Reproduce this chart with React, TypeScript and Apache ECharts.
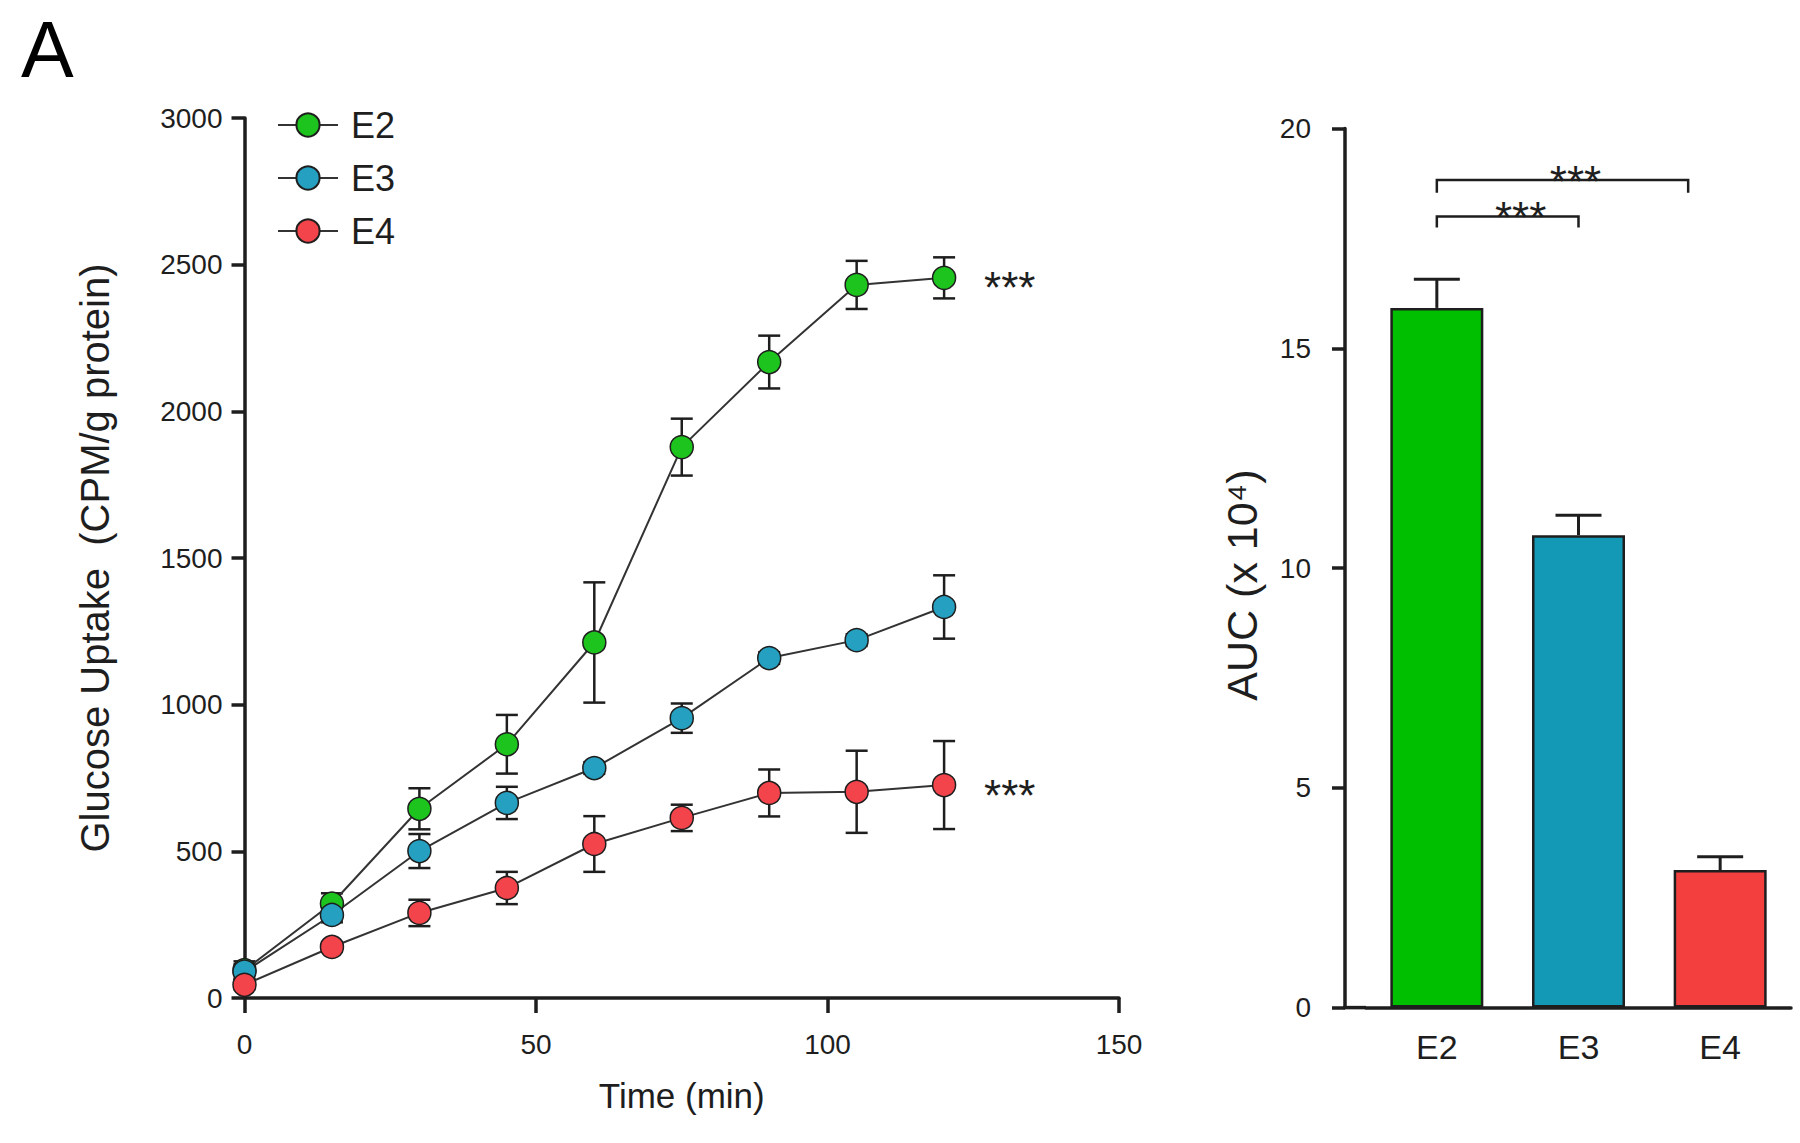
import React, { useEffect, useRef } from 'react';
import * as echarts from 'echarts';

// ---- Data ----
const seriesNames = ['E2', 'E3', 'E4'];
const times = [0, 15, 30, 45, 60, 75, 90, 105, 120];
const e2Mean = [95, 322, 645, 865, 1212, 1878, 2168, 2431, 2455];
const e2Err = [30, 35, 70, 100, 205, 97, 90, 82, 70];
const e3Mean = [90, 283, 501, 665, 784, 954, 1159, 1220, 1333];
const e3Err = [25, 25, 58, 55, 20, 50, 20, 20, 108];
const e4Mean = [45, 174, 290, 375, 525, 614, 699, 703, 726];
const e4Err = [15, 15, 45, 55, 95, 45, 80, 140, 150];
const starredSeries = ['E2', 'E4'];

const aucCategories = ['E2', 'E3', 'E4'];
const aucMean = [15.92, 10.75, 3.13];
const aucErr = [0.65, 0.45, 0.3];
// significance brackets: [fromIndex, toIndex, lineValue, dropValue]
const brackets = [
  [0, 1, 18.0, 17.75],
  [0, 2, 18.83, 18.54],
];
const bracketLabel = '***';

// ---- Styles ----
const FONT = '"Liberation Sans", Arial, Helvetica, sans-serif';
const markerColors = ['#1ec41e', '#25a0c0', '#f2444a'];
const barColors = ['#00be00', '#1399b5', '#f43f3f'];
const bracketRightShift = [0, -32];
const AXIS_W = 3.5;
const INK = '#1e1e1e';
const STAR_SIZE = 44;

const L = { left: 244.5, top: 118, width: 874.5, height: 880 };
const R = { left: 1366, top: 128.6, width: 425, height: 879 };
const R_OFFSET = 21;

export default function App() {
  const ref = useRef<HTMLDivElement>(null);

  useEffect(() => {
    const chart = echarts.init(ref.current as HTMLDivElement, null, { renderer: 'svg' });

    const means = [e2Mean, e3Mean, e4Mean];
    const errs = [e2Err, e3Err, e4Err];

    const errRender = (capHalf: number) => (params: any, api: any) => {
      const x = api.value(0);
      const lo = api.value(1);
      const hi = api.value(2);
      const pLo = api.coord([x, lo]);
      const pHi = api.coord([x, hi]);
      const st = { stroke: INK, lineWidth: 2.5 };
      return {
        type: 'group',
        children: [
          { type: 'line', shape: { x1: pLo[0], y1: pLo[1], x2: pHi[0], y2: pHi[1] }, style: st },
          { type: 'line', shape: { x1: pHi[0] - capHalf, y1: pHi[1], x2: pHi[0] + capHalf, y2: pHi[1] }, style: st },
          { type: 'line', shape: { x1: pLo[0] - capHalf, y1: pLo[1], x2: pLo[0] + capHalf, y2: pLo[1] }, style: st },
        ],
      };
    };

    const lineSeries: any[] = seriesNames.map((name, si) => ({
      name,
      type: 'line',
      xAxisIndex: 0,
      yAxisIndex: 0,
      data: times.map((t, i) => [t, means[si][i]]),
      symbol: 'circle',
      symbolSize: 23,
      z: 3,
      itemStyle: { color: markerColors[si], borderColor: INK, borderWidth: 1.5 },
      lineStyle: { color: '#333', width: 2 },
      endLabel: starredSeries.includes(name)
        ? {
            show: true,
            formatter: '***',
            distance: 40,
            offset: [0, 10],
            fontSize: STAR_SIZE,
            fontFamily: FONT,
            color: INK,
          }
        : { show: false },
    }));

    const errSeries: any[] = seriesNames.map((name, si) => ({
      name: name + ' SEM',
      type: 'custom',
      xAxisIndex: 0,
      yAxisIndex: 0,
      z: 1,
      silent: true,
      encode: { x: 0, y: [1, 2] },
      data: times.map((t, i) => [t, means[si][i] - errs[si][i], means[si][i] + errs[si][i]]),
      renderItem: errRender(11),
    }));

    const barSeries: any = {
      name: 'AUC',
      type: 'bar',
      xAxisIndex: 1,
      yAxisIndex: 1,
      barWidth: 93,
      z: 2,
      data: aucMean.map((v, i) => ({
        value: v,
        itemStyle: { color: barColors[i], borderColor: INK, borderWidth: 2.5 },
      })),
    };

    const barErrSeries: any = {
      name: 'AUC SEM',
      type: 'custom',
      xAxisIndex: 1,
      yAxisIndex: 1,
      z: 1,
      silent: true,
      encode: { x: 0, y: [1, 2] },
      data: aucMean.map((v, i) => [i, v, v + aucErr[i]]),
      renderItem: (params: any, api: any) => {
        const x = api.value(0);
        const p0 = api.coord([x, api.value(1)]);
        const p1 = api.coord([x, api.value(2)]);
        const st = { stroke: INK, lineWidth: 3 };
        return {
          type: 'group',
          children: [
            { type: 'line', shape: { x1: p0[0], y1: p0[1], x2: p1[0], y2: p1[1] }, style: st },
            { type: 'line', shape: { x1: p1[0] - 23, y1: p1[1], x2: p1[0] + 23, y2: p1[1] }, style: st },
          ],
        };
      },
    };

    const bracketSeries: any = {
      name: 'significance',
      type: 'custom',
      xAxisIndex: 1,
      yAxisIndex: 1,
      z: 4,
      silent: true,
      encode: { x: [0, 1], y: [2, 3] },
      data: brackets,
      renderItem: (params: any, api: any) => {
        const a = api.value(0);
        const b = api.value(1);
        const yv = api.value(2);
        const dv = api.value(3);
        const pa = api.coord([a, yv]);
        const pb = api.coord([b, yv]);
        const pd = api.coord([a, dv]);
        const xr = pb[0] + bracketRightShift[params.dataIndex];
        const st = { stroke: INK, lineWidth: 2.5, fill: 'none' };
        return {
          type: 'group',
          children: [
            {
              type: 'polyline',
              shape: { points: [[pa[0], pd[1]], [pa[0], pa[1]], [xr, pa[1]], [xr, pd[1]]] },
              style: st,
            },
            {
              type: 'text',
              x: (pa[0] + xr) / 2 + 13,
              y: pa[1] + 1,
              style: {
                text: bracketLabel,
                fontSize: STAR_SIZE,
                fontFamily: FONT,
                fill: INK,
                align: 'center',
                verticalAlign: 'middle',
              },
            },
          ],
        };
      },
    };

    const axisLabelStyle = { fontFamily: FONT, color: INK };
    const plain = (v: number) => String(v);

    const option: any = {
      animation: false,
      backgroundColor: '#ffffff',
      textStyle: { fontFamily: FONT },
      grid: [
        { left: L.left, top: L.top, width: L.width, height: L.height, containLabel: false },
        { left: R.left, top: R.top, width: R.width, height: R.height, containLabel: false },
      ],
      legend: {
        data: seriesNames,
        orient: 'vertical',
        left: 272,
        top: 102,
        itemWidth: 60,
        itemHeight: 29,
        itemGap: 17,
        selectedMode: false,
        textStyle: { fontSize: 36, fontFamily: FONT, color: INK, padding: [0, 0, 0, 8] },
      },
      xAxis: [
        {
          type: 'value',
          gridIndex: 0,
          min: 0,
          max: 150,
          interval: 50,
          splitLine: { show: false },
          axisLine: { show: true, onZero: false, lineStyle: { color: INK, width: AXIS_W } },
          axisTick: { show: true, length: 15, lineStyle: { color: INK, width: AXIS_W } },
          axisLabel: { ...axisLabelStyle, fontSize: 28, margin: 32, formatter: plain },
          name: 'Time (min)',
          nameLocation: 'middle',
          nameGap: 80,
          nameTextStyle: { fontSize: 35, fontFamily: FONT, color: INK },
        },
        {
          type: 'category',
          gridIndex: 1,
          data: aucCategories,
          axisLine: { show: true, lineStyle: { color: INK, width: AXIS_W } },
          axisTick: { show: false },
          axisLabel: { ...axisLabelStyle, fontSize: 34, margin: 22 },
        },
      ],
      yAxis: [
        {
          type: 'value',
          gridIndex: 0,
          min: 0,
          max: 3000,
          interval: 500,
          splitLine: { show: false },
          axisLine: { show: true, lineStyle: { color: INK, width: AXIS_W } },
          axisTick: { show: true, length: 13, lineStyle: { color: INK, width: AXIS_W } },
          axisLabel: { ...axisLabelStyle, fontSize: 28, margin: 22, formatter: plain },
          name: 'Glucose Uptake  (CPM/g protein)',
          nameLocation: 'middle',
          nameGap: 130,
          nameTextStyle: { fontSize: 40, fontFamily: FONT, color: INK },
        },
        {
          type: 'value',
          gridIndex: 1,
          min: 0,
          max: 20,
          interval: 5,
          offset: R_OFFSET,
          splitLine: { show: false },
          axisLine: { show: true, lineStyle: { color: INK, width: AXIS_W } },
          axisTick: { show: true, length: 13, lineStyle: { color: INK, width: AXIS_W } },
          axisLabel: { ...axisLabelStyle, fontSize: 28, margin: 34, formatter: plain },
          name: 'AUC (x 10\u2074)',
          nameLocation: 'middle',
          nameGap: 82,
          nameTextStyle: { fontSize: 43, fontFamily: FONT, color: INK, padding: [0, 34, 0, 0] },
        },
      ],
      graphic: [
        {
          type: 'text',
          left: 21,
          top: 10,
          style: { text: 'A', fontSize: 79, fontFamily: FONT, fill: '#000' },
        },
        {
          type: 'line',
          shape: {
            x1: R.left - R_OFFSET - AXIS_W / 2,
            y1: R.top + R.height,
            x2: R.left,
            y2: R.top + R.height,
          },
          style: { stroke: INK, lineWidth: AXIS_W },
        },
      ],
      series: [...errSeries, ...lineSeries, barErrSeries, barSeries, bracketSeries],
    };

    chart.setOption(option);
    return () => chart.dispose();
  }, []);

  return (
    <div
      ref={ref}
      style={{ position: 'fixed', left: 0, top: 0, width: 1800, height: 1143, background: '#fff' }}
    />
  );
}
